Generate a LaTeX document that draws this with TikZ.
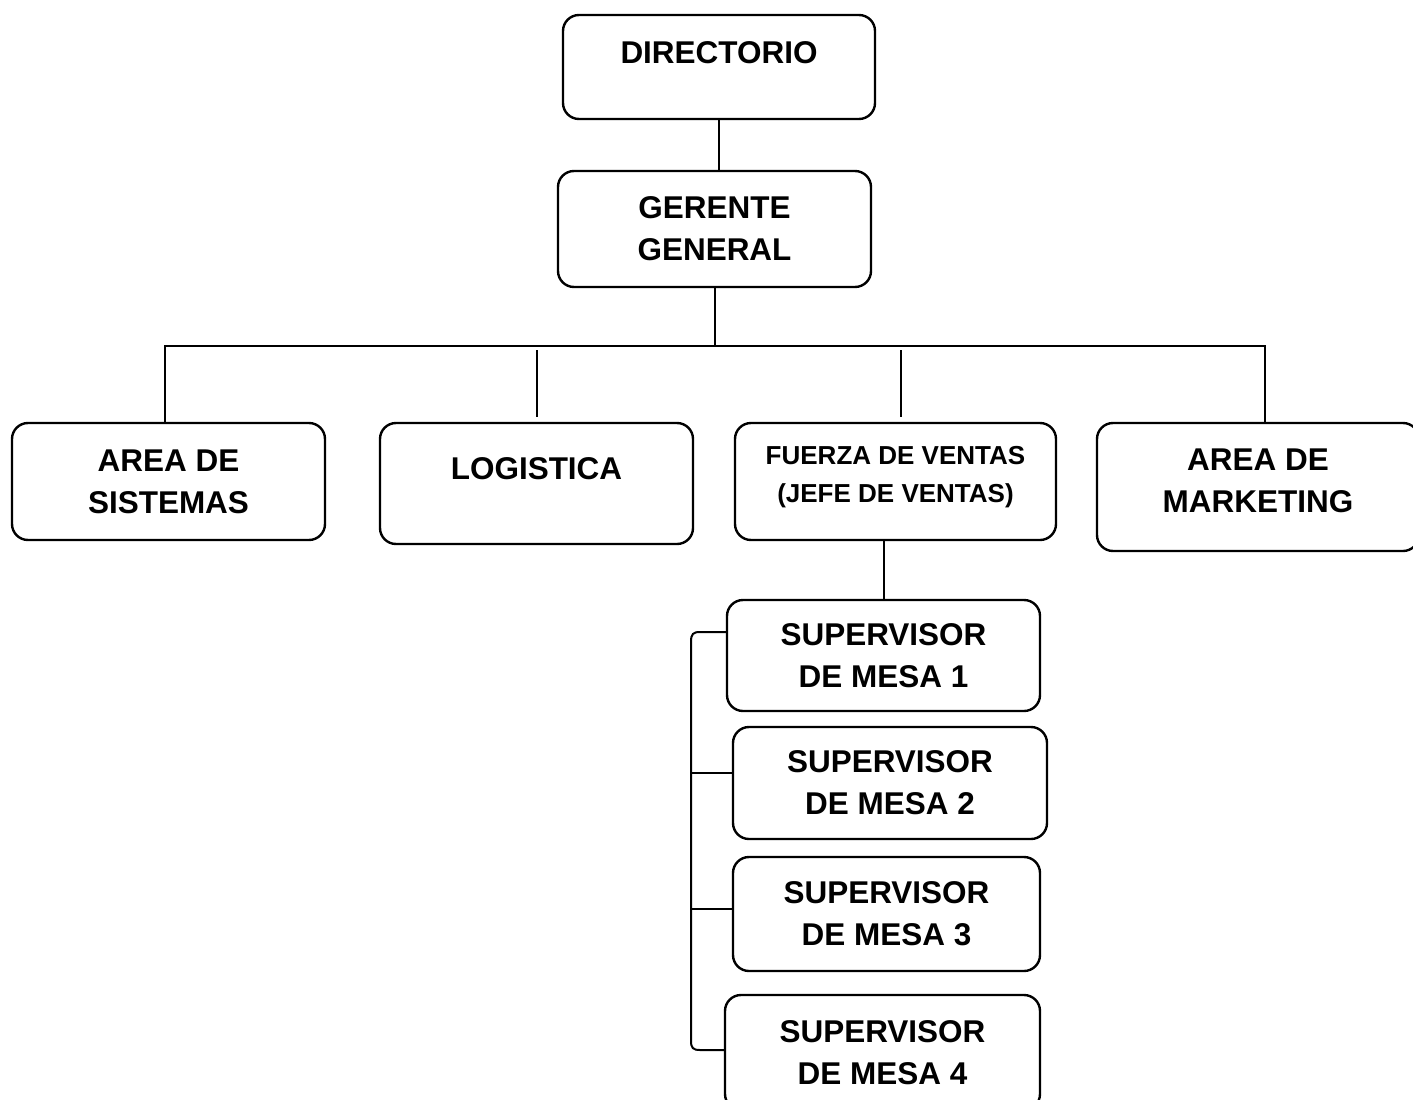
\documentclass[tikz,border=0pt]{standalone}
\usepackage{fontspec}
\setmainfont{Liberation Sans}

\tikzset{every picture/.style={line width=0.75pt}}
\tikzset{
  orgbox/.style={draw, line width=1.8pt, rounded corners=12pt, align=center, inner sep=0pt,
    font=\bfseries\fontsize{23.6}{31.5}\selectfont},
  smalltext/.style={font=\bfseries\fontsize{19.5}{28.5}\selectfont},
  boxsize/.style 2 args={minimum width=#1*0.75pt, minimum height=#2*0.75pt},
  lift/.style={text depth=#1},
  link/.style={line width=1.5pt}
}

\begin{document}
\begin{tikzpicture}[x=0.75pt,y=0.75pt,yscale=-1,xscale=1]
\useasboundingbox (0,0) rectangle (1413,1099);

%Rounded Rect
\node[orgbox, boxsize={312}{104}, lift=21pt] (dir) at (719,67) {DIRECTORIO};
%Rounded Rect
\node[orgbox, boxsize={313}{116}] (gg) at (714.5,229) {GERENTE\\GENERAL};
%Rounded Rect
\node[orgbox, boxsize={313}{117}] (sis) at (168.5,481.5) {AREA DE\\SISTEMAS};
%Rounded Rect
\node[orgbox, boxsize={313}{121}, lift=22.5pt] (log) at (536.5,483.5) {LOGISTICA};
%Rounded Rect
\node[orgbox, smalltext, boxsize={321}{117}, lift=10pt] (fza) at (895.5,481.5) {FUERZA DE VENTAS\\(JEFE DE VENTAS)};
%Rounded Rect
\node[orgbox, boxsize={322}{128}, lift=9.5pt] (mkt) at (1258,487) {AREA DE\\MARKETING};
%Rounded Rect
\node[orgbox, boxsize={313}{111}] (sup1) at (883.5,655.5) {SUPERVISOR\\DE MESA 1};
%Rounded Rect
\node[orgbox, boxsize={314}{112}] (sup2) at (890,783) {SUPERVISOR\\DE MESA 2};
%Rounded Rect
\node[orgbox, boxsize={307}{114}] (sup3) at (886.5,914) {SUPERVISOR\\DE MESA 3};
%Rounded Rect
\node[orgbox, boxsize={315}{115}] (sup4) at (882.5,1052.5) {SUPERVISOR\\DE MESA 4};

\coordinate (bus) at (713,346);
\coordinate (logtop) at (537,350);
\coordinate (fzatop) at (901,350);

%Straight Lines
\draw[link] (dir.south) -- (dir.south |- gg.north);
%Straight Lines
\draw[link] (gg.south) -- (gg.south |- bus);
%Straight Lines
\draw[link] ([xshift=-2.6pt]sis.north) |- (bus) -| ([xshift=5.25pt]mkt.north);
%Straight Lines
\draw[link] (logtop) -- ++(0,67);
%Straight Lines
\draw[link] (fzatop) -- ++(0,67);
%Straight Lines
\draw[link] (sup1.north) -- (sup1.north |- fza.south);

%Shape: Brace
\draw[link] (sup1.west |- 0,632) -- (700,632) .. controls (693,632) and (691,634) .. (691,642)
  -- (691,1041) .. controls (691,1048) and (693,1050) .. (700,1050) -- (sup4.west |- 0,1050);
%Straight Lines
\draw[link] (691,773) -- (sup2.west |- 0,773);
%Straight Lines
\draw[link] (691,909) -- (sup3.west |- 0,909);
\end{tikzpicture}
\end{document}
